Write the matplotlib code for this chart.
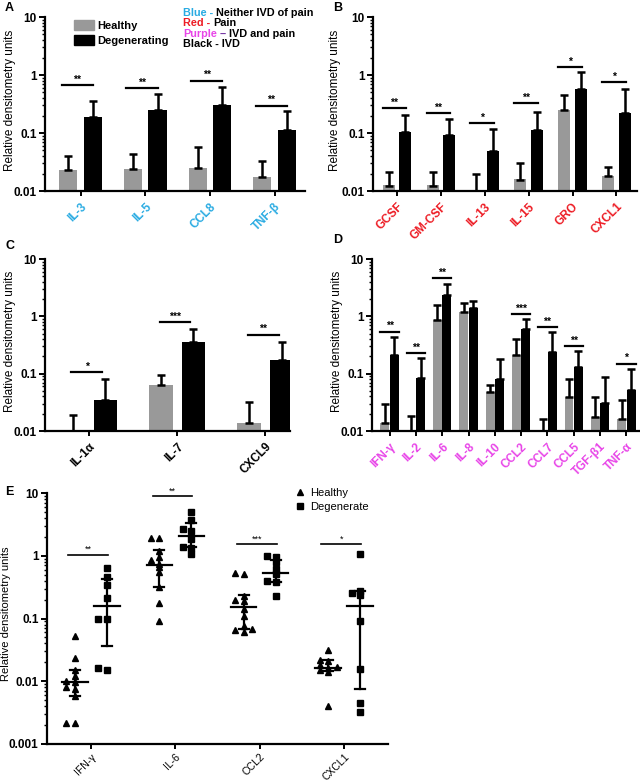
import numpy as np
import matplotlib.pyplot as plt
from matplotlib.patches import Patch
from matplotlib.lines import Line2D
from matplotlib.ticker import LogLocator, NullFormatter

plt.rcParams['font.family'] = ['Liberation Sans', 'DejaVu Sans']

BLUE = '#29ABE2'
RED = '#ED1C24'
PINK = '#E845E8'
GREY = '#999999'

# ---- panel A : neither IVD nor pain
A_labels = ['IL-3', 'IL-5', 'CCL8', 'TNF-β']
A_healthy = [0.0233, 0.0239, 0.0249, 0.0172]
A_healthy_top = [0.0407, 0.044, 0.0574, 0.033]
A_degen = [0.189, 0.252, 0.304, 0.111]
A_degen_top = [0.356, 0.477, 0.62, 0.236]
A_sig = [0.66, 0.6, 0.80, 0.296]
A_stars = ['**', '**', '**', '**']

# ---- panel B : pain
B_labels = ['GCSF', 'GM-CSF', 'IL-13', 'IL-15', 'GRO', 'CXCL1']
B_healthy = [0.0124, 0.0124, 0.005, 0.0157, 0.252, 0.0181]
B_healthy_top = [0.021, 0.021, 0.0199, 0.0304, 0.452, 0.026]
B_degen = [0.1026, 0.0935, 0.0483, 0.111, 0.574, 0.224]
B_degen_top = [0.207, 0.172, 0.116, 0.23, 1.11, 0.58]
B_sig = [0.27, 0.22, 0.148, 0.329, 1.37, 0.75]
B_stars = ['**', '**', '*', '**', '*', '*']

# ---- panel C : IVD
C_labels = ['IL-1α', 'IL-7', 'CXCL9']
C_healthy = [0.005, 0.0646, 0.0139]
C_healthy_top = [0.0191, 0.096, 0.032]
C_degen = [0.0352, 0.351, 0.174]
C_degen_top = [0.0798, 0.597, 0.356]
C_sig = [0.105, 0.79, 0.477]
C_stars = ['*', '***', '**']

# ---- panel D : IVD and pain
D_labels = ['IFN-γ', 'IL-2', 'IL-6', 'IL-8', 'IL-10', 'CCL2', 'CCL7', 'CCL5', 'TGF-β1', 'TNF-α']
D_healthy = [0.0139, 0.005, 0.87, 1.19, 0.048, 0.209, 0.005, 0.0398, 0.0177, 0.0159]
D_healthy_top = [0.029, 0.018, 1.55, 1.74, 0.063, 0.395, 0.0159, 0.08, 0.0387, 0.0353]
D_degen = [0.21, 0.0855, 2.34, 1.41, 0.082, 0.604, 0.242, 0.133, 0.0305, 0.0518]
D_degen_top = [0.44, 0.19, 3.67, 1.86, 0.183, 0.91, 0.53, 0.245, 0.086, 0.121]
D_sig = [0.54, 0.23, 4.6, None, None, 1.1, 0.64, 0.30, None, 0.15]
D_stars = ['**', '**', '**', '', '', '***', '**', '**', '', '*']

# ---- panel E : individual samples
E_labels = ['IFN-γ', 'IL-6', 'CCL2', 'CXCL1']
E_healthy = [
    [0.053, 0.0236, 0.0152, 0.012, 0.010, 0.0098, 0.0081, 0.0074, 0.0058, 0.0022, 0.0022],
    [1.95, 1.95, 1.2, 0.95, 0.85, 0.75, 0.65, 0.55, 0.32, 0.175, 0.09],
    [0.51, 0.54, 0.23, 0.2, 0.19, 0.14, 0.11, 0.075, 0.068, 0.066, 0.06],
    [0.032, 0.022, 0.021, 0.018, 0.017, 0.016, 0.015, 0.014, 0.0041],
]
E_degen = [
    [0.644, 0.462, 0.34, 0.214, 0.1, 0.098, 0.0163, 0.0153],
    [4.9, 3.7, 2.66, 2.44, 1.84, 1.39, 1.31, 1.06],
    [1.0, 0.96, 0.8, 0.61, 0.51, 0.4, 0.375, 0.23],
    [1.06, 0.276, 0.254, 0.235, 0.092, 0.0159, 0.0045, 0.0032],
]
E_h_mid = [0.0098, 0.70, 0.155, 0.0165]
E_h_lo = [0.0058, 0.32, 0.069, 0.0146]
E_h_hi = [0.0153, 1.23, 0.236, 0.0218]
E_d_mid = [0.157, 2.08, 0.54, 0.159]
E_d_lo = [0.036, 1.39, 0.375, 0.0074]
E_d_hi = [0.42, 3.28, 0.86, 0.27]
E_sig = [1.04, 8.8, 1.53, 1.53]
E_stars = ['**', '**', '***', '*']

W, H = 640, 781


def add_axes_px(left, top, right, bottom):
    return fig.add_axes([left / W, 1 - bottom / H, (right - left) / W, (bottom - top) / H])


def style_log_axis(ax, lo, hi, labels, label_px, left_px, right_px, fs=8.5):
    ax.set_yscale('log')
    ax.set_ylim(lo, hi)
    ticks = [10.0 ** k for k in range(int(np.log10(lo)), int(np.log10(hi)) + 1)]
    ax.set_yticks(ticks)
    ax.set_yticklabels(labels, fontsize=8.5, fontweight='bold')
    ax.yaxis.set_minor_locator(LogLocator(base=10, subs=np.arange(2, 10)))
    ax.yaxis.set_minor_formatter(NullFormatter())
    for s in ['top', 'right']:
        ax.spines[s].set_visible(False)
    for s in ['left', 'bottom']:
        ax.spines[s].set_linewidth(1.6)
    ax.tick_params(axis='y', which='major', length=4, width=1.4, pad=2)
    ax.tick_params(axis='y', which='minor', length=2.5, width=1.0)
    ax.tick_params(axis='x', length=3.5, width=1.4)
    ax.set_ylabel('Relative densitometry units', fontsize=fs)
    # label_px is the right edge of the rotated label, in figure pixels
    ax.yaxis.set_label_coords((label_px - left_px) / (right_px - left_px), 0.52)


def bar_panel(ax, labels, h, h_top, d, d_top, sig, stars, color, off, width, span, xlim):
    x = np.arange(len(labels))
    ax.bar(x - off, h, width, bottom=1e-4, color=GREY, zorder=2)
    ax.bar(x + off, d, width, bottom=1e-4, color='black', zorder=2)
    ax.errorbar(x - off, h, yerr=[np.zeros(len(h)), np.array(h_top) - np.array(h)],
                fmt='none', ecolor='black', elinewidth=1.8, capsize=2.8, capthick=1.8, zorder=3)
    ax.errorbar(x + off, d, yerr=[np.zeros(len(d)), np.array(d_top) - np.array(d)],
                fmt='none', ecolor='black', elinewidth=1.8, capsize=2.8, capthick=1.8, zorder=3)
    for i, (s, st) in enumerate(zip(sig, stars)):
        if s is None:
            continue
        ax.plot([i + span[0], i + span[1]], [s, s], color='black', lw=1.6)
        ax.text(i + (span[0] + span[1]) / 2, s * 1.02, st, ha='center', va='bottom',
                fontsize=7.5, fontweight='bold')
    ax.set_xlim(*xlim)
    ax.set_xticks(x)
    ax.set_xticklabels(labels, rotation=45, ha='right', va='top', rotation_mode='anchor',
                       fontsize=8.5, fontweight='bold', color=color)


fig = plt.figure(figsize=(W / 100, H / 100), dpi=100)

axA = add_axes_px(45, 17, 305, 191)
bar_panel(axA, A_labels, A_healthy, A_healthy_top, A_degen, A_degen_top, A_sig, A_stars,
          BLUE, 0.19, 0.28, (-0.29, 0.19), (-0.55, 3.47))
style_log_axis(axA, 0.01, 10, ['0.01', '0.1', '1', '10'], 16, 45, 305)
axA.legend(handles=[Patch(color=GREY), Patch(color='black')], labels=['Healthy', 'Degenerating'],
           loc='upper left', bbox_to_anchor=(0.11, 0.985), frameon=False, borderpad=0,
           borderaxespad=0, prop={'size': 8, 'weight': 'bold'}, handlelength=1.8,
           handleheight=1.1, handletextpad=0.35, labelspacing=0.35)

# colour key
key_lines = [[('Blue - ', BLUE), ('Neither IVD of pain', 'black')],
             [('Red - ', RED), ('Pain', 'black')],
             [('Purple', PINK), (' – ', '#7030A0'), ('IVD and pain', 'black')],
             [('Black - IVD', 'black')]]
for k, parts in enumerate(key_lines):
    prev = fig.text(183 / W, 1 - (13 + 10.4 * k) / H, parts[0][0], color=parts[0][1],
                    fontsize=7.8, fontweight='bold', va='center', ha='left')
    for txt, col in parts[1:]:
        prev = fig.add_artist(plt.Annotation(txt, xy=(1, 0), xycoords=prev, va='bottom',
                                             ha='left', fontsize=7.8, fontweight='bold',
                                             color=col))

axB = add_axes_px(373, 17, 637, 191)
bar_panel(axB, B_labels, B_healthy, B_healthy_top, B_degen, B_degen_top, B_sig, B_stars,
          RED, 0.19, 0.275, (-0.33, 0.21), (-0.55, 5.47))
style_log_axis(axB, 0.01, 10, ['0.01', '0.1', '1', '10'], 341, 373, 637)

axC = add_axes_px(45, 259, 290, 431)
bar_panel(axC, C_labels, C_healthy, C_healthy_top, C_degen, C_degen_top, C_sig, C_stars,
          'black', 0.185, 0.265, (-0.2, 0.15), (-0.5, 2.28))
style_log_axis(axC, 0.01, 10, ['0.01', '0.1', '1', '10'], 16, 45, 290)

axD = add_axes_px(372, 259, 640, 431)
bar_panel(axD, D_labels, D_healthy, D_healthy_top, D_degen, D_degen_top, D_sig, D_stars,
          PINK, 0.18, 0.34, (-0.35, 0.35), (-0.67, 9.52))
style_log_axis(axD, 0.01, 10, ['0.01', '0.1', '1', '10'], 343, 372, 640)


def spread(vals, step=0.1, tol=0.055):
    # beeswarm-like horizontal placement of points with similar values
    lv = np.log10(vals)
    order = np.argsort(lv)
    slots = [0, -1, 1, -2, 2, -3, 3]
    offs = np.zeros(len(vals))
    placed = []
    for idx in order:
        for s in slots:
            if all(abs(lv[idx] - lv[j]) >= tol for j, sj in placed if sj == s):
                placed.append((idx, s))
                offs[idx] = s * step
                break
    return offs


axE = add_axes_px(47, 493, 388, 744)
for i in range(len(E_labels)):
    for vals, dx, mk, ms, mid, lo, hi in [
            (E_healthy[i], -0.19, '^', 4.5, E_h_mid[i], E_h_lo[i], E_h_hi[i]),
            (E_degen[i], 0.19, 's', 4.2, E_d_mid[i], E_d_lo[i], E_d_hi[i])]:
        xs = i + dx + spread(vals)
        axE.plot(xs, vals, ls='none', marker=mk, ms=ms, color='black', zorder=2)
        axE.plot([i + dx - 0.15, i + dx + 0.15], [mid, mid], color='black', lw=1.6, zorder=3)
        axE.plot([i + dx, i + dx], [lo, hi], color='black', lw=1.6, zorder=3)
        for v in (lo, hi):
            axE.plot([i + dx - 0.06, i + dx + 0.06], [v, v], color='black', lw=1.6, zorder=3)
    axE.plot([i - 0.27, i + 0.2], [E_sig[i], E_sig[i]], color='black', lw=1.2)
    axE.text(i - 0.035, E_sig[i] * 1.02, E_stars[i], ha='center', va='bottom', fontsize=6.5)
style_log_axis(axE, 0.001, 10, ['0.001', '0.01', '0.1', '1', '10'], 11, 47, 388, fs=8)
axE.set_xlim(-0.52, 3.52)
axE.set_xticks(np.arange(len(E_labels)))
axE.set_xticklabels(E_labels, rotation=45, ha='right', va='top', rotation_mode='anchor',
                    fontsize=7.5)
axE.tick_params(axis='x', pad=2)
axE.legend(handles=[Line2D([], [], ls='none', marker='^', ms=4.5, color='black'),
                    Line2D([], [], ls='none', marker='s', ms=4.2, color='black')],
           labels=['Healthy', 'Degenerate'], loc='upper left', bbox_to_anchor=(0.7, 1.06),
           frameon=False, fontsize=8, handlelength=0.8, handletextpad=0.5, labelspacing=0.4)

for letter, (px, py) in {'A': (5, 8), 'B': (333, 8), 'C': (5, 246), 'D': (333, 240),
                         'E': (5, 492)}.items():
    fig.text(px / W, 1 - py / H, letter, fontsize=9, fontweight='bold', va='center')

fig.savefig('out.png', dpi=100)
